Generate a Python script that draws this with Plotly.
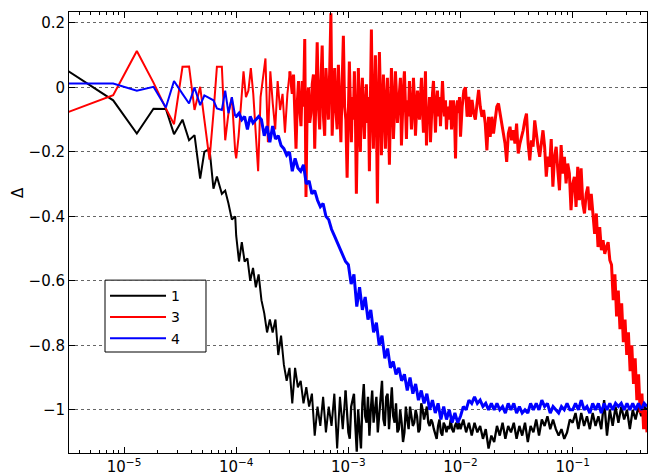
import numpy as np
import plotly.graph_objects as go

# ---------------- data ----------------
# sparse early samples (shared x)
x_early = [3.2e-6, 8.0e-6, 1.3e-5, 1.83e-5, 2.36e-5, 2.79e-5, 3.32e-5, 3.8e-5, 4.25e-5,
           4.77e-5, 5.2e-5, 5.78e-5, 6.27e-5, 6.73e-5, 7.45e-5, 7.98e-5, 8.53e-5, 9.15e-5, 9.8e-5]
x_end = 0.46

black_early = [0.05, -0.04, -0.143, -0.066, -0.067, -0.145, -0.10, -0.164, -0.148, -0.283,
               -0.20, -0.19, -0.314, -0.276, -0.33, -0.32, -0.36, -0.41, -0.40]
red_early = [-0.076, -0.024, 0.113, 0.015, -0.065, -0.114, 0.064, 0.065, -0.07, 0.002,
             -0.10, -0.224, -0.08, 0.064, 0.064, -0.164, -0.08, -0.03, -0.20]
blue_early = [0.012, 0.012, -0.01, 0.002, -0.062, 0.02, -0.02, -0.05, 0.0, -0.055,
              -0.025, -0.035, -0.04, -0.065, -0.07, -0.01, -0.08, -0.03, -0.09]

# ----- series "3" (red), dense samples per log-x segment -----
red_s1 = [-0.22, -0.15, -0.06, 0.05, -0.03, -0.01, 0.06, -0.02, -0.14, -0.26,
          -0.03, 0.04, 0.09, -0.17, 0.05, -0.05, -0.13, 0.02, -0.07, -0.02,
          -0.14, -0.02, 0.05]                                   # 1e-4 .. 10^-3.5
red_s2 = [-0.02, 0.04, -0.08, -0.19, -0.05, 0.02, -0.07, -0.12, 0.02, -0.06,
          0.15, -0.34, -0.05, 0.00, -0.11, -0.08, 0.01, 0.04, -0.19, -0.02,
          0.14, -0.06, -0.13, 0.02, 0.13, -0.09, -0.15, 0.06, -0.03, -0.10,
          0.05, 0.23, -0.15, -0.02, 0.06, -0.07, -0.13, 0.07, -0.04, -0.17,
          0.01, 0.16, -0.06, -0.10, -0.28]                      # 10^-3.5 .. 1e-3
red_s3 = [0.02, 0.08, -0.05, -0.17, -0.03, -0.10, 0.05, -0.08, -0.33, -0.04,
          0.06, -0.12, -0.20, -0.02, 0.03, -0.09, -0.16, -0.05, 0.01, -0.11,
          -0.03, -0.26, -0.02, 0.18, -0.07, -0.19, -0.04, 0.10, -0.08, -0.36,
          -0.06, 0.11, -0.02, -0.21, -0.09, 0.04, -0.06, -0.19, -0.05, 0.03,
          -0.10, -0.24, -0.07, 0.06, -0.03, -0.16, -0.08, 0.05, -0.02, -0.11,
          -0.06, 0.00, 0.03, -0.18, -0.07, 0.00]                # 1e-3 .. 10^-2.5
red_s4 = [0.05, -0.06, -0.16, -0.04, -0.09, 0.02, -0.05, -0.13, -0.07, 0.03,
          -0.04, -0.15, -0.08, -0.01, -0.06, -0.10, -0.03, 0.03, -0.07, -0.14,
          -0.05, 0.05, -0.18, -0.06, -0.09, -0.03, -0.17, -0.08, -0.02, 0.02,
          -0.07, -0.14, -0.05, -0.01, -0.09, -0.03, -0.12, -0.06, 0.02, -0.05,
          -0.09, -0.04, -0.13, -0.07, -0.06, -0.10, -0.04, -0.13, -0.08, -0.04,
          -0.09, -0.22, -0.07, -0.04, -0.08, -0.03]             # 10^-2.5 .. 1e-2
red_s5 = [-0.153, -0.06, -0.01, 0.00, -0.091, -0.029, -0.091, -0.039, -0.081, -0.10,
          -0.05, -0.008, -0.06, -0.091, -0.07, -0.112, -0.195, -0.091, -0.153, -0.091,
          -0.143, -0.102, -0.06, -0.05, -0.081, -0.122, -0.143, -0.174, -0.231, -0.143,
          -0.122, -0.164, -0.133, -0.174, -0.112, -0.205, -0.174, -0.153, -0.133, -0.102,
          -0.081, -0.174, -0.226, -0.164, -0.184, -0.102, -0.153, -0.184, -0.215, -0.174,
          -0.133, -0.184, -0.277, -0.215, -0.246, -0.16, -0.308, -0.215, -0.184, -0.257,
          -0.319, -0.179, -0.267, -0.215, -0.298, -0.236, -0.267, -0.381]  # 1e-2 .. 1e-1
red_s6 = [-0.30, -0.277, -0.371, -0.246, -0.35, -0.251, -0.36, -0.391, -0.33, -0.308,
          -0.381, -0.33, -0.402, -0.454, -0.391, -0.495, -0.433, -0.505, -0.474, -0.516,
          -0.495, -0.48, -0.536, -0.55, -0.66, -0.58, -0.71, -0.63, -0.75, -0.67,
          -0.79, -0.72, -0.83, -0.76, -0.88, -0.80, -0.92, -0.84, -0.97, -0.89,
          -1.01, -0.95, -1.06, -1.00, -1.07]                    # 1e-1 .. x_end

# ----- series "4" (blue) -----
blue_s1 = [-0.09, -0.08, -0.10, -0.09, -0.13, -0.09, -0.11, -0.10, -0.09, -0.10,
           -0.15, -0.12, -0.17, -0.12, -0.16, -0.15, -0.18, -0.19, -0.21, -0.20,
           -0.26, -0.22, -0.25, -0.26, -0.24, -0.30, -0.29, -0.33, -0.32, -0.35,
           -0.37, -0.36, -0.40, -0.41, -0.44, -0.46, -0.48, -0.50, -0.52, -0.54]
blue_s2 = [-0.55, -0.61, -0.58, -0.68, -0.62, -0.69, -0.65, -0.72, -0.69, -0.76,
           -0.73, -0.80, -0.77, -0.84, -0.81, -0.87, -0.85, -0.89, -0.87, -0.91,
           -0.89, -0.94, -0.90, -0.95, -0.92, -0.97, -0.94, -0.98, -0.95, -1.00,
           -0.97, -1.01, -0.98, -1.03, -0.99, -1.03, -1.00, -1.04, -1.01, -1.04]
blue_s3 = [-1.02, -0.99, -1.00, -0.97, -0.98, -0.96, -0.98, -0.97, -0.99, -0.98,
           -1.00, -0.98, -1.00, -0.98, -1.00, -0.99, -1.01, -0.98, -1.00, -0.98,
           -1.01, -0.99, -1.01, -1.00, -1.01, -0.98, -1.00, -0.98, -1.00, -0.97,
           -0.99, -0.98, -1.01, -0.99, -1.00, -1.01, -0.99, -1.00, -0.98, -1.00]
blue_s4 = [-1.00, -0.98, -1.00, -0.97, -1.00, -0.99, -1.01, -0.98, -1.00, -0.98,
           -1.01, -0.98, -1.00, -0.98, -1.00, -0.98, -0.99, -0.98, -1.00, -0.98,
           -1.00, -0.98, -1.00, -0.98, -1.00, -0.98, -0.99]

# ----- series "1" (black) -----
black_s1 = [-0.46, -0.54, -0.48, -0.54, -0.53, -0.60, -0.56, -0.62, -0.58, -0.66,
            -0.70, -0.76, -0.72, -0.76, -0.72, -0.83, -0.77, -0.86, -0.91, -0.87,
            -0.98, -0.87, -0.93, -0.91, -0.98, -0.93, -0.99, -0.95, -1.08, -0.99,
            -1.05, -0.96, -1.07, -0.99, -1.05, -0.95, -1.12, -0.96, -1.06, -0.94]
black_s2 = [-1.07, -1.09, -0.99, -0.97, -0.95, -1.05, -1.13, -1.00, -1.05, -1.12,
            -0.98, -0.92, -1.02, -1.04, -0.96, -1.08, -1.00, -0.94, -1.04, -0.99,
            -0.96, -1.07, -1.02, -0.95, -0.91, -1.03, -1.05, -0.96, -0.95, -1.06,
            -0.99, -0.93, -1.02, -1.04, -0.98, -1.07, -1.06, -1.00, -1.04, -1.10,
            -1.07, -0.99, -1.03, -1.06, -0.99, -1.02, -1.05, -1.04, -1.00, -1.02,
            -1.07, -1.06, -0.98, -1.00, -1.03, -1.01, -0.99, -1.04, -1.05, -1.03,
            -1.04, -1.06, -1.08, -1.09, -1.05, -1.03, -1.07, -1.08, -1.04, -1.05,
            -1.07, -1.05, -1.06, -1.03, -1.06, -1.07, -1.05, -1.04, -1.06, -1.04]
black_s3 = [-1.06, -1.03, -1.07, -1.04, -1.08, -1.04, -1.07, -1.05, -1.09, -1.06,
            -1.12, -1.08, -1.10, -1.05, -1.08, -1.04, -1.09, -1.05, -1.07, -1.04,
            -1.09, -1.05, -1.08, -1.04, -1.10, -1.05, -1.07, -1.03, -1.08, -1.03,
            -1.05, -1.02, -1.06, -1.03, -1.06, -1.08, -1.06, -1.09, -1.07, -1.03]
black_s4 = [-1.04, -1.01, -1.06, -1.01, -1.05, -1.02, -1.06, -1.01, -1.05, -1.02,
            -1.06, -0.97, -1.08, -1.00, -1.05, -0.99, -1.04, -0.99, -1.03, -1.00,
            -1.06, -1.00, -1.03, -0.99, -1.02, -0.99, -1.00]

# log10(x) bounds of each dense segment
red_bounds = [(-4, -3.5), (-3.5, -3), (-3, -2.5), (-2.5, -2), (-2, -1), (-1, None)]
bb_bounds = [(-4, -3), (-3, -2), (-2, -1), (-1, None)]

series_names = ["1", "3", "4"]
series_colors = ["#000000", "#ff0000", "#0000ff"]
# line width of the sparse (left) part and of the dense (right) part of each series
sparse_widths = [2, 2, 2]
dense_widths = [2.3, 3, 3]
# number of dense segments drawn with the sparse width
n_sparse_segs = [1, 1, 0]

y_tickvals = [-1.0, -0.8, -0.6, -0.4, -0.2, 0.0, 0.2]
y_ticktext = ["\u22121", "\u22120.8", "\u22120.6", "\u22120.4", "\u22120.2", "0", "0.2"]
x_decades = [-5, -4, -3, -2, -1]
x_ticktext = ["10<sup>\u22125</sup>", "10<sup>\u22124</sup>", "10<sup>\u22123</sup>",
              "10<sup>\u22122</sup>", "10<sup>\u22121</sup>"]


def build(early, segs, bounds, n_sp):
    xs = list(x_early)
    ys = list(early)
    n_split = len(xs)
    for k, (vals, (lo, hi)) in enumerate(zip(segs, bounds)):
        if hi is None:
            xs += list(np.logspace(lo, np.log10(x_end), len(vals)))
        else:
            xs += list(np.logspace(lo, hi, len(vals), endpoint=False))
        ys += list(vals)
        if k < n_sp:
            n_split = len(xs)
    return xs, ys, n_split


data = [
    build(black_early, [black_s1, black_s2, black_s3, black_s4], bb_bounds, n_sparse_segs[0]),
    build(red_early, [red_s1, red_s2, red_s3, red_s4, red_s5, red_s6], red_bounds, n_sparse_segs[1]),
    build(blue_early, [blue_s1, blue_s2, blue_s3, blue_s4], bb_bounds, n_sparse_segs[2]),
]

fig = go.Figure()
for (xs, ys, n), name, col, w0, w1 in zip(data, series_names, series_colors,
                                          sparse_widths, dense_widths):
    fig.add_trace(go.Scatter(x=xs[:n], y=ys[:n], mode="lines", name=name,
                             legendgroup=name, showlegend=True,
                             line=dict(color=col, width=w0)))
    fig.add_trace(go.Scatter(x=xs[n - 1:], y=ys[n - 1:], mode="lines", name=name,
                             legendgroup=name, showlegend=False,
                             line=dict(color=col, width=w1)))

minor_vals = [m * 10.0 ** k for k in range(-6, 0) for m in range(2, 10)]

font = dict(family="DejaVu Sans, Liberation Sans, Arial, sans-serif", size=15, color="#000")
legend_font = dict(family="DejaVu Sans, Liberation Sans, Arial, sans-serif", size=14, color="#000")

fig.update_layout(
    width=648, height=476,
    margin=dict(l=69, r=1, t=12, b=23, autoexpand=False),
    paper_bgcolor="white", plot_bgcolor="white",
    font=font,
    showlegend=True,
    legend=dict(x=0.0623, y=0.392, xanchor="left", yanchor="top",
                borderwidth=0, bgcolor="rgba(0,0,0,0)",
                itemwidth=56, font=legend_font, tracegroupgap=0),
    xaxis=dict(type="log", range=[np.log10(3.23e-6), np.log10(x_end)],
               automargin=False,
               showline=True, linecolor="#000", linewidth=1, mirror="ticks",
               ticks="inside", ticklen=6, tickcolor="#000",
               tickvals=[10.0 ** d for d in x_decades], ticktext=x_ticktext,
               showgrid=False, zeroline=False,
               minor=dict(ticks="inside", ticklen=3, tickcolor="#000",
                          tickvals=minor_vals, showgrid=False)),
    yaxis=dict(range=[-1.134, 0.234], automargin=False,
               showline=True, linecolor="#000", linewidth=1, mirror="ticks",
               ticks="inside", ticklen=6, tickcolor="#000",
               tickvals=y_tickvals, ticktext=y_ticktext,
               showgrid=True, gridcolor="#666", gridwidth=1, griddash="dot",
               zeroline=False),
    shapes=[dict(type="rect", xref="paper", yref="paper",
                 x0=0.0623, x1=0.237, y0=0.229, y1=0.392,
                 line=dict(color="#000", width=1), fillcolor="white", layer="above")],
    annotations=[dict(text="\u0394", xref="paper", yref="paper",
                      x=-0.088, y=0.59, xanchor="center", yanchor="middle",
                      showarrow=False, textangle=-90, font=font)],
)

fig.write_html("out.html", config={"displayModeBar": False},
               post_script="document.body.style.margin='0px';document.body.style.overflow='hidden';")
